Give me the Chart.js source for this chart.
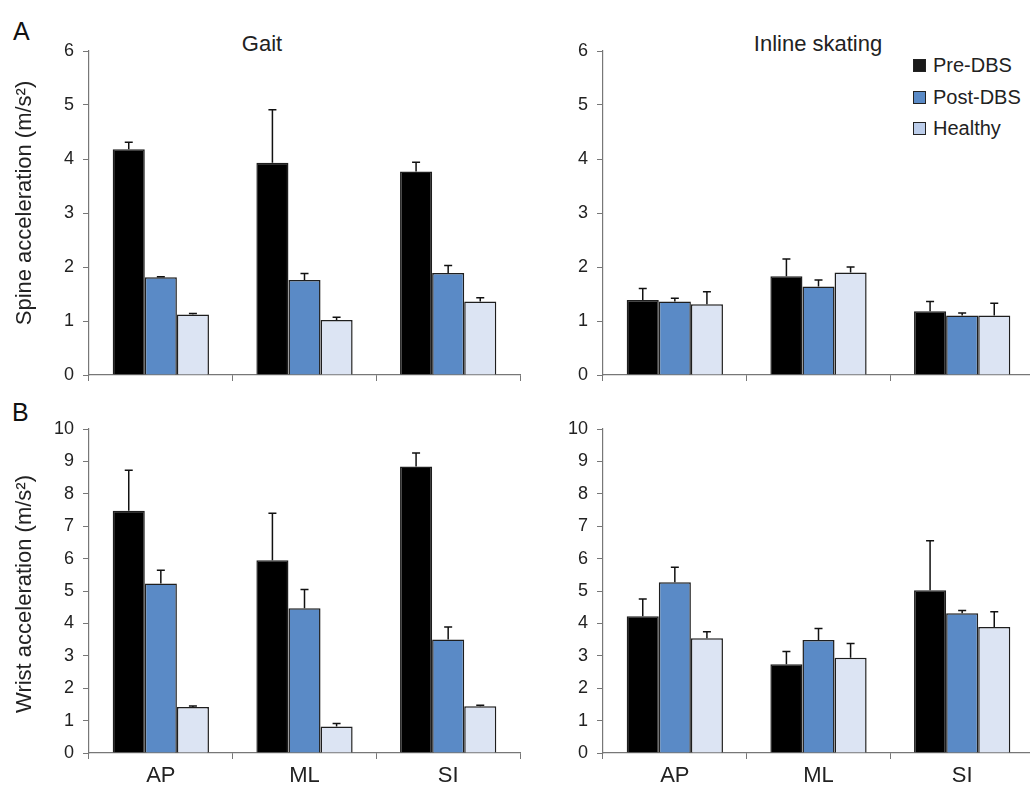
<!DOCTYPE html>
<html>
<head>
<meta charset="utf-8">
<title>Spine and wrist acceleration</title>
<script src="https://cdn.jsdelivr.net/npm/chart.js"></script>
<style>
    html, body { margin: 0; padding: 0; background: #fff; overflow: hidden; }
    body { width: 1030px; height: 786px; position: relative; font-family: "Liberation Sans", Arial, sans-serif; color: #222; }
    canvas { position: absolute; }
    .lbl { position: absolute; white-space: nowrap; line-height: 1; }
    .panel { font-size: 25px; color: #111; }
    .title { font-size: 22px; transform: translateX(-50%); }
    .legend { position: absolute; left: 913px; top: 50px; font-size: 20px; }
    .legend div { height: 31.5px; display: flex; align-items: center; }
    .legend span.sw { width: 11px; height: 11px; border: 1.5px solid #222; margin-right: 7px; display: inline-block; }
</style>
</head>
<body>

<div class="lbl panel" style="left:13px; top:19px;">A</div>
<div class="lbl panel" style="left:12px; top:400px;">B</div>
<div class="lbl title" style="left:262px; top:33px;">Gait</div>
<div class="lbl title" style="left:818px; top:33px;">Inline skating</div>
<div class="legend" id="legend"></div>

<canvas id="wristGait" width="530" height="396" style="left:0; top:390px; width:530px; height:396px;"></canvas>
<canvas id="wristSkate" width="520" height="396" style="left:520px; top:390px; width:520px; height:396px;"></canvas>
<canvas id="spineGait" width="530" height="395" style="left:0; top:0; width:530px; height:395px;"></canvas>
<canvas id="spineSkate" width="520" height="395" style="left:520px; top:0; width:520px; height:395px;"></canvas>

<script>
// Categories and groups
const categories = ['AP', 'ML', 'SI'];
const seriesNames = ['Pre-DBS', 'Post-DBS', 'Healthy'];

// A - spine acceleration, gait (m/s^2) and upper error
const spineGaitPre = [4.18, 3.93, 3.77];
const spineGaitPost = [1.81, 1.76, 1.89];
const spineGaitHealthy = [1.12, 1.02, 1.36];
const spineGaitPreErr = [0.13, 0.98, 0.17];
const spineGaitPostErr = [0.01, 0.12, 0.14];
const spineGaitHealthyErr = [0.02, 0.05, 0.07];

// A - spine acceleration, inline skating
const spineSkatePre = [1.39, 1.83, 1.18];
const spineSkatePost = [1.36, 1.64, 1.10];
const spineSkateHealthy = [1.31, 1.90, 1.10];
const spineSkatePreErr = [0.21, 0.32, 0.18];
const spineSkatePostErr = [0.06, 0.12, 0.05];
const spineSkateHealthyErr = [0.23, 0.10, 0.23];

// B - wrist acceleration, gait
const wristGaitPre = [7.48, 5.95, 8.84];
const wristGaitPost = [5.23, 4.47, 3.50];
const wristGaitHealthy = [1.42, 0.82, 1.44];
const wristGaitPreErr = [1.25, 1.45, 0.42];
const wristGaitPostErr = [0.41, 0.58, 0.39];
const wristGaitHealthyErr = [0.03, 0.09, 0.03];

// B - wrist acceleration, inline skating
const wristSkatePre = [4.22, 2.74, 5.02];
const wristSkatePost = [5.27, 3.49, 4.31];
const wristSkateHealthy = [3.54, 2.94, 3.89];
const wristSkatePreErr = [0.53, 0.39, 1.53];
const wristSkatePostErr = [0.46, 0.35, 0.09];
const wristSkateHealthyErr = [0.20, 0.44, 0.47];

const spineTicks = [0, 1, 2, 3, 4, 5, 6];
const wristTicks = [0, 1, 2, 3, 4, 5, 6, 7, 8, 9, 10];

const fillColors = ['#000000', '#5a8ac6', '#dce4f3'];
const legendColors = ['#1a1a1a', '#5a8ac6', '#bccdea'];
const FONT = '"Liberation Sans", Arial, sans-serif';
const AXIS = '#777777';

// Upper error bars, drawn on top of each bar
const errorBars = {
    id: 'errorBars',
    afterDatasetsDraw(chart) {
        const ctx = chart.ctx;
        const y = chart.scales.y;
        ctx.save();
        ctx.strokeStyle = '#111';
        ctx.lineWidth = 1.5;
        chart.data.datasets.forEach((ds, i) => {
            const meta = chart.getDatasetMeta(i);
            meta.data.forEach((bar, j) => {
                const top = y.getPixelForValue(ds.data[j] + ds.errors[j]);
                ctx.beginPath();
                ctx.moveTo(bar.x, bar.y);
                ctx.lineTo(bar.x, top);
                ctx.moveTo(bar.x - 4, top);
                ctx.lineTo(bar.x + 4, top);
                ctx.stroke();
            });
        });
        ctx.restore();
    }
};

// Rotated y-axis title at a fixed spot
const yTitle = {
    id: 'yTitle',
    afterDraw(chart, args, opts) {
        if (!opts.text) return;
        const ctx = chart.ctx;
        ctx.save();
        ctx.translate(opts.x, opts.y);
        ctx.rotate(-Math.PI / 2);
        ctx.font = '22px ' + FONT;
        ctx.fillStyle = '#222';
        ctx.textAlign = 'center';
        ctx.textBaseline = 'middle';
        ctx.fillText(opts.text, 0, 0);
        ctx.restore();
    }
};

function makePanel(id, values, errors, ticks, cfg) {
    new Chart(document.getElementById(id), {
        type: 'bar',
        data: {
            labels: categories,
            datasets: seriesNames.map((name, i) => ({
                label: name,
                data: values[i],
                errors: errors[i],
                backgroundColor: fillColors[i],
                borderColor: '#1e1e1e',
                borderWidth: 1.5,
                borderSkipped: 'bottom',
                categoryPercentage: 0.67,
                barPercentage: 1.0
            }))
        },
        options: {
            responsive: false,
            animation: false,
            events: [],
            layout: { padding: { left: 0, top: cfg.top, right: cfg.right, bottom: 0 } },
            plugins: {
                legend: { display: false },
                tooltip: { enabled: false },
                yTitle: { text: cfg.title, x: 25, y: cfg.titleY }
            },
            scales: {
                x: {
                    grid: { offset: true, drawOnChartArea: false, drawTicks: true, tickLength: 6, color: AXIS },
                    border: { color: AXIS, width: 1.2 },
                    ticks: { display: cfg.xLabels, padding: 4, color: '#222', font: { family: FONT, size: 22 } },
                    afterFit(scale) { scale.height = cfg.xHeight; }
                },
                y: {
                    min: ticks[0],
                    max: ticks[ticks.length - 1],
                    afterBuildTicks(scale) { scale.ticks = ticks.map(v => ({ value: v })); },
                    grid: { drawOnChartArea: false, drawTicks: true, tickLength: 6, color: AXIS },
                    border: { color: AXIS, width: 1.2 },
                    ticks: { padding: 9, color: '#222', font: { family: FONT, size: 18 } },
                    afterFit(scale) { scale.width = cfg.yWidth; }
                }
            }
        },
        plugins: [errorBars, yTitle]
    });
}

makePanel('spineGait',
    [spineGaitPre, spineGaitPost, spineGaitHealthy],
    [spineGaitPreErr, spineGaitPostErr, spineGaitHealthyErr],
    spineTicks,
    { top: 51, right: 10, xHeight: 20, yWidth: 89, xLabels: false, title: 'Spine acceleration (m/s²)', titleY: 203 });

makePanel('spineSkate',
    [spineSkatePre, spineSkatePost, spineSkateHealthy],
    [spineSkatePreErr, spineSkatePostErr, spineSkateHealthyErr],
    spineTicks,
    { top: 51, right: 6, xHeight: 20, yWidth: 83, xLabels: false, title: '', titleY: 0 });

makePanel('wristGait',
    [wristGaitPre, wristGaitPost, wristGaitHealthy],
    [wristGaitPreErr, wristGaitPostErr, wristGaitHealthyErr],
    wristTicks,
    { top: 39, right: 10, xHeight: 33, yWidth: 89, xLabels: true, title: 'Wrist acceleration (m/s²)', titleY: 204 });

makePanel('wristSkate',
    [wristSkatePre, wristSkatePost, wristSkateHealthy],
    [wristSkatePreErr, wristSkatePostErr, wristSkateHealthyErr],
    wristTicks,
    { top: 39, right: 6, xHeight: 33, yWidth: 83, xLabels: true, title: '', titleY: 0 });

// Legend (top right)
const legend = document.getElementById('legend');
seriesNames.forEach((name, i) => {
    const row = document.createElement('div');
    row.innerHTML = '<span class="sw" style="background:' + legendColors[i] + '"></span>' + name;
    legend.appendChild(row);
});
</script>
</body>
</html>
